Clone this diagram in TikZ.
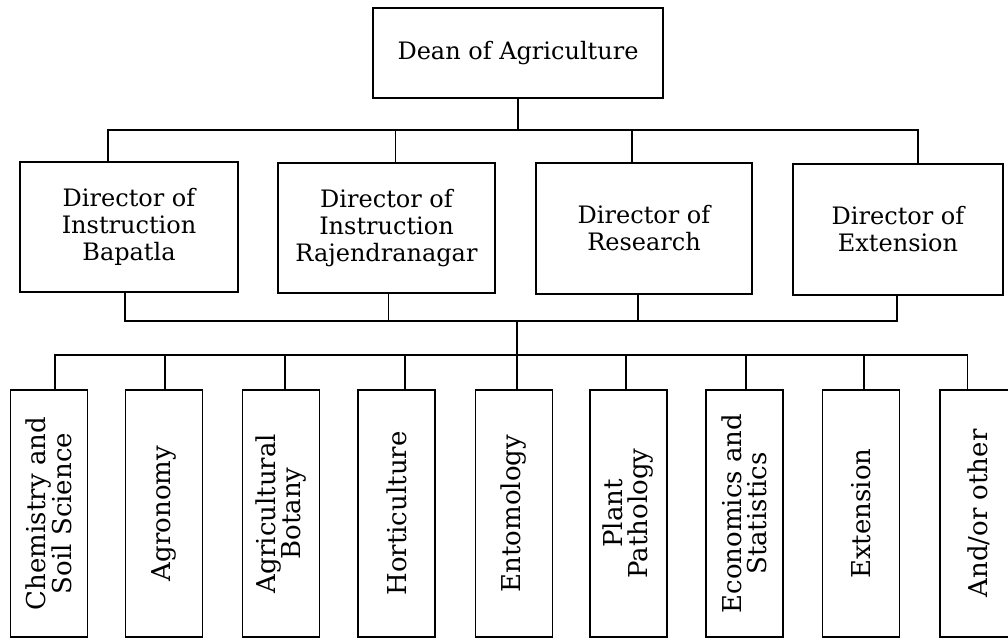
\documentclass[tikz,border=0pt]{standalone}
\usepackage{fontspec}
\setmainfont{DejaVu Serif}
\usetikzlibrary{calc}

\begin{document}
\begin{tikzpicture}[x = 1pt, y = -1pt, line width = 1.3pt,
	topbox/.style = {draw, rectangle, align = center, font = \fontsize{24}{27}\selectfont},
	lowbox/.style = {draw, rectangle, minimum width = 77pt, minimum height = 247pt},
	lowtext/.style = {rotate = 90, align = center, font = \fontsize{26}{25}\selectfont}]
	\useasboundingbox (0, 0) rectangle (1008, 640);
	
	\node[topbox, minimum width = 290pt, minimum height = 90pt] (dean) at (518, 53) {Dean of Agriculture};
	\node[topbox, minimum width = 218pt, minimum height = 130pt] (bapatla) at (129, 227) {Director of\\Instruction\\Bapatla};
	\node[topbox, minimum width = 217pt, minimum height = 130pt] (rajendranagar) at (386.5, 228) {Director of\\Instruction\\Rajendranagar};
	\node[topbox, minimum width = 216pt, minimum height = 131pt] (research) at (644, 228.5) {Director of\\Research};
	\node[topbox, minimum width = 210pt, minimum height = 131pt] (extension) at (898, 229.5) {Director of\\Extension};
	
	\coordinate (upper bus) at (518, 130);
	\coordinate (middle bus) at (517, 321);
	\coordinate (lower bus) at (517, 355);
	
	\draw (dean.south) -- (upper bus);
	\foreach \dir/\dx in {bapatla/-21, rajendranagar/9, research/-12, extension/20}
		\draw ([xshift = \dx pt]\dir.north) |- (upper bus);
	\foreach \dir/\dx in {bapatla/-4, rajendranagar/2, research/-6, extension/-1}
		\draw ([xshift = \dx pt]\dir.south) |- (middle bus);
	\draw (middle bus) -- (lower bus);
	
	\foreach \dept/\cx/\dx/\txt in {chemistry/49/6/{Chemistry and\\Soil Science},
			agronomy/164/1/{Agronomy},
			botany/281/4/{Agricultural\\Botany},
			horticulture/396.5/8.5/{Horticulture},
			entomology/514/3/{Entomology},
			pathology/628.5/-2.5/{Plant\\Pathology},
			economics/744.5/1.5/{Economics and\\Statistics},
			extensiondept/861/3/{Extension},
			other/978.5/-11/{And/or other}}
	{
		\node[lowbox] (\dept) at (\cx, 513.5) {};
		\node[lowtext] at (\dept) {\txt};
		\draw ([xshift = \dx pt]\dept.north) |- (lower bus);
	}
\end{tikzpicture}
\end{document}
